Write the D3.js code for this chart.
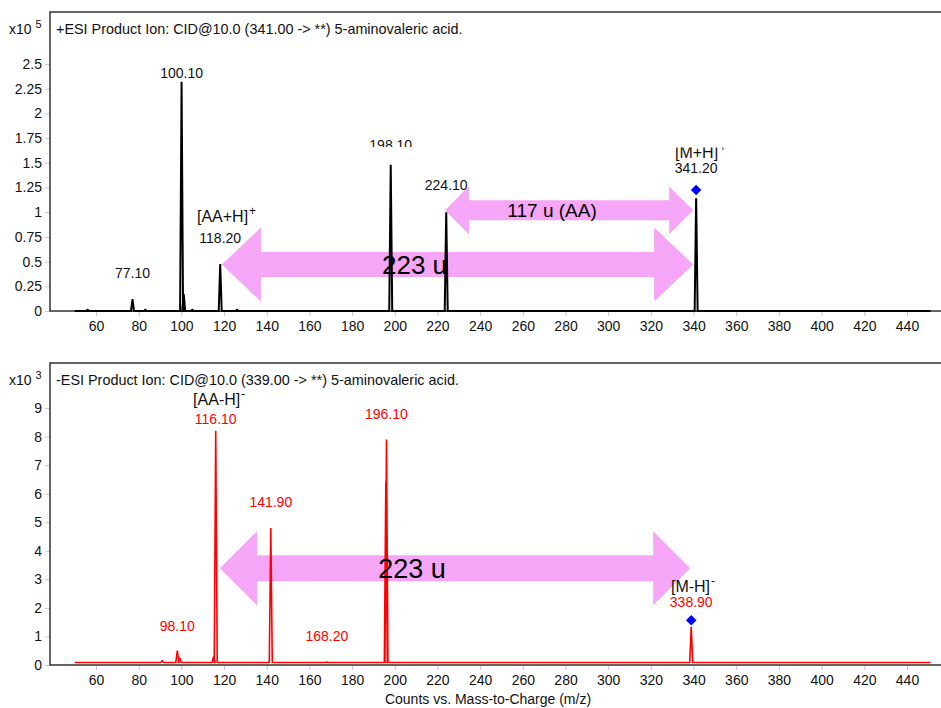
<!DOCTYPE html>
<html lang="en">
<head>
<meta charset="UTF-8">
<title>5-aminovaleric acid product ion spectra</title>
<script src="https://cdnjs.cloudflare.com/ajax/libs/d3/7.8.5/d3.min.js"></script>
<style>
  body { margin: 0; background: #fff; }
  svg text { font-family: "Liberation Sans", Arial, sans-serif; }
</style>
</head>
<body>
<svg width="941" height="708" id="canvas"></svg>
<script>
// ---- data ----
var xTicks = [60, 80, 100, 120, 140, 160, 180, 200, 220, 240, 260, 280, 300, 320, 340, 360, 380, 400, 420, 440];
var topTicks = [0, 0.25, 0.5, 0.75, 1, 1.25, 1.5, 1.75, 2, 2.25, 2.5];
var botTicks = [0, 1, 2, 3, 4, 5, 6, 7, 8, 9];
var mzRange = [50, 451];

// positive mode peaks, x10^5 counts
var topMz   = [56.1, 77.1, 83.1, 100.1, 101.1, 105.1, 118.2, 126.1, 198.1, 224.1, 341.2];
var topInt  = [0.012, 0.12, 0.012, 2.32, 0.17, 0.012, 0.475, 0.012, 1.48, 1.0, 1.14];
// negative mode peaks, x10^3 counts
var botMz   = [91.0, 98.1, 99.2, 115.1, 116.1, 141.9, 168.2, 195.8, 196.1, 338.9];
var botInt  = [0.15, 0.5, 0.25, 0.3, 8.2, 4.8, 0.1, 6.4, 7.9, 1.34];
var botBase = 0.09;

// labels: [text, m/z, label baseline height]
var topLabels = [["100.10", 100.1, 2.36], ["77.10", 77.1, 0.334], ["118.20", 118.2, 0.688],
                 ["198.10", 198.1, 1.63], ["224.10", 224.1, 1.225], ["341.20", 341.2, 1.397]];
var botLabels = [["116.10", 116.1, 8.43], ["196.10", 196.1, 8.6], ["141.90", 141.9, 5.52],
                 ["98.10", 98.1, 1.19], ["168.20", 168.2, 0.84], ["338.90", 338.9, 2.03]];
// ion names: [text, sign, left m/z, baseline height]
var topIons = [["[AA+H]", "+", 107.3, 0.9], ["[M+H]", "+", 331.3, 1.55]];
var botIons = [["[AA-H]", "-", 105.5, 9.09], ["[M-H]", "-", 329.4, 2.55]];
// precursor markers [m/z, height]
var topPrec = [[341.2, 1.225]];
var botPrec = [[338.9, 1.57]];
// arrows [from m/z, to m/z, height, text]
var topArrows = [[119.0, 339.8, 0.47, "223 u"], [223.5, 339.8, 1.02, "117 u (AA)"]];
var botArrows = [[118.1, 338.4, 3.39, "223 u"]];

// ---- layout ----
var svg = d3.select('#canvas');
var W = 941, left = 50;
var x = d3.scaleLinear().domain([60, 440]).range([96, 907]);
var yTop = d3.scaleLinear().domain([0, 2.5]).range([311, 64]);
var yBot = d3.scaleLinear().domain([0, 9]).range([665, 408]);
var pink = "#f5a6f6";

svg.append("defs").append("clipPath").attr("id", "clipBelow")
  .append("rect").attr("x", 0).attr("y", 0).attr("width", W).attr("height", 147);
svg.select("defs").append("clipPath").attr("id", "clipAbove")
  .append("rect").attr("x", 0).attr("y", 147.5).attr("width", W).attr("height", 60);

function arrowPath(a, y, shaft, head, headLen) {
  var x0 = x(a[0]), x1 = x(a[1]), yc = y(a[2]);
  var p = d3.path();
  p.moveTo(x0, yc);
  p.lineTo(x0 + headLen, yc - head);
  p.lineTo(x0 + headLen, yc - shaft);
  p.lineTo(x1 - headLen, yc - shaft);
  p.lineTo(x1 - headLen, yc - head);
  p.lineTo(x1, yc);
  p.lineTo(x1 - headLen, yc + head);
  p.lineTo(x1 - headLen, yc + shaft);
  p.lineTo(x0 + headLen, yc + shaft);
  p.lineTo(x0 + headLen, yc + head);
  p.closePath();
  return p.toString();
}

function spectrum(mz, inten, base) {
  var pts = [[mzRange[0], base]];
  var w = 0.7;
  mz.forEach(function(m, i) {
    pts.push([m - w, base], [m, inten[i]], [m + w, base]);
  });
  pts.push([mzRange[1], base]);
  return pts;
}

function panel(cfg) {
  var g = svg.append("g");
  // y ticks
  var ya = g.append("g").attr("transform", "translate(" + left + ",0)")
    .call(d3.axisLeft(cfg.y).tickValues(cfg.yTicks).tickSize(5).tickPadding(3)
      .tickFormat(function(d) { return String(d); }));
  ya.select(".domain").remove();
  ya.selectAll("line").attr("stroke", "#c8c8c8");
  ya.selectAll("text").attr("font-size", 14).attr("fill", "#111")
    .style("font-family", "Liberation Sans, Arial, sans-serif");
  // x ticks
  var xa = g.append("g").attr("transform", "translate(0," + cfg.y(0) + ")")
    .call(d3.axisBottom(x).tickValues(xTicks).tickSize(5).tickPadding(5));
  xa.select(".domain").remove();
  xa.selectAll("line").attr("stroke", "#c8c8c8");
  xa.selectAll("text").attr("font-size", 14).attr("fill", "#111")
    .style("font-family", "Liberation Sans, Arial, sans-serif");

  // frame
  g.append("path")
    .attr("d", "M" + W + "," + cfg.top + "H" + left + "V" + cfg.y(0) + "H" + W)
    .attr("fill", "none").attr("stroke", "#333").attr("stroke-width", 1.5);

  // multiplier
  var mt = g.append("text").attr("x", 9).attr("y", cfg.top + 22).attr("font-size", 14).attr("fill", "#111");
  mt.append("tspan").text("x10");
  mt.append("tspan").attr("dx", 4).attr("dy", -6).attr("font-size", 11).text(cfg.exp);

  g.append("text").attr("x", 56).attr("y", cfg.top + 22).attr("font-size", 14.4).attr("fill", "#111")
    .text(cfg.title);

  // arrows
  g.selectAll(".arrow").data(cfg.arrows).enter().append("path")
    .attr("d", function(a, i) { return arrowPath(a, cfg.y, cfg.shape[i][0], cfg.shape[i][1], cfg.shape[i][2]); })
    .attr("fill", pink);

  // spectrum line
  var line = d3.line().x(function(d) { return x(d[0]); }).y(function(d) { return cfg.y(d[1]); });
  g.append("path").datum(spectrum(cfg.mz, cfg.inten, cfg.base))
    .attr("d", line).attr("fill", "none").attr("stroke", cfg.color)
    .attr("stroke-width", cfg.sw).attr("stroke-linejoin", "miter").attr("stroke-miterlimit", 3);

  // arrow texts
  g.selectAll(".atext").data(cfg.arrows).enter().append("text")
    .attr("x", function(a) { return (x(a[0]) + x(a[1])) / 2 + (a[3] === "223 u" ? -43 : -17); })
    .attr("y", function(a, i) { return cfg.y(a[2]) + cfg.shape[i][3] * 0.36; })
    .attr("text-anchor", "middle")
    .attr("font-size", function(a, i) { return cfg.shape[i][3]; })
    .attr("fill", "#000")
    .text(function(a) { return a[3]; });

  // precursor diamonds
  g.selectAll(".prec").data(cfg.prec).enter().append("path")
    .attr("d", d3.symbol().type(d3.symbolDiamond2).size(70))
    .attr("transform", function(d) { return "translate(" + x(d[0]) + "," + cfg.y(d[1]) + ")"; })
    .attr("fill", "#0000ff");

  // peak labels
  g.selectAll(".plab").data(cfg.labels).enter().append("text")
    .attr("x", function(d) { return x(d[1]); })
    .attr("y", function(d) { return cfg.y(d[2]); })
    .attr("text-anchor", "middle").attr("font-size", 14)
    .attr("fill", cfg.labelColor)
    .attr("clip-path", function(d) { return d[0] === "198.10" ? "url(#clipBelow)" : null; })
    .text(function(d) { return d[0]; });

  // ion names
  var ions = g.selectAll(".ion").data(cfg.ions).enter().append("text")
    .attr("x", function(d) { return x(d[2]); })
    .attr("y", function(d) { return cfg.y(d[3]); })
    .attr("font-size", 16).attr("fill", "#111")
    .attr("clip-path", function(d) { return d[0] === "[M+H]" ? "url(#clipAbove)" : null; });
  ions.append("tspan").text(function(d) { return d[0]; });
  ions.append("tspan").attr("dx", 1).attr("dy", -7).attr("font-size", 12).text(function(d) { return d[1]; });
}

panel({
  top: 12, y: yTop, yTicks: topTicks, exp: "5",
  title: "+ESI Product Ion: CID@10.0 (341.00 -> **) 5-aminovaleric acid.",
  mz: topMz, inten: topInt, base: 0, color: "#000", sw: 2,
  labels: topLabels, labelColor: "#111", ions: topIons, prec: topPrec,
  arrows: topArrows, shape: [[12.5, 37, 39, 26], [10, 24, 24, 19]]
});

panel({
  top: 363, y: yBot, yTicks: botTicks, exp: "3",
  title: "-ESI Product Ion: CID@10.0 (339.00 -> **) 5-aminovaleric acid.",
  mz: botMz, inten: botInt, base: botBase, color: "#ff0000", sw: 1.6,
  labels: botLabels, labelColor: "#ff0000", ions: botIons, prec: botPrec,
  arrows: botArrows, shape: [[13, 37, 37, 27]]
});

svg.append("text").attr("x", 488).attr("y", 704).attr("text-anchor", "middle")
  .attr("font-size", 14).attr("fill", "#111")
  .text("Counts vs. Mass-to-Charge (m/z)");
</script>
</body>
</html>
